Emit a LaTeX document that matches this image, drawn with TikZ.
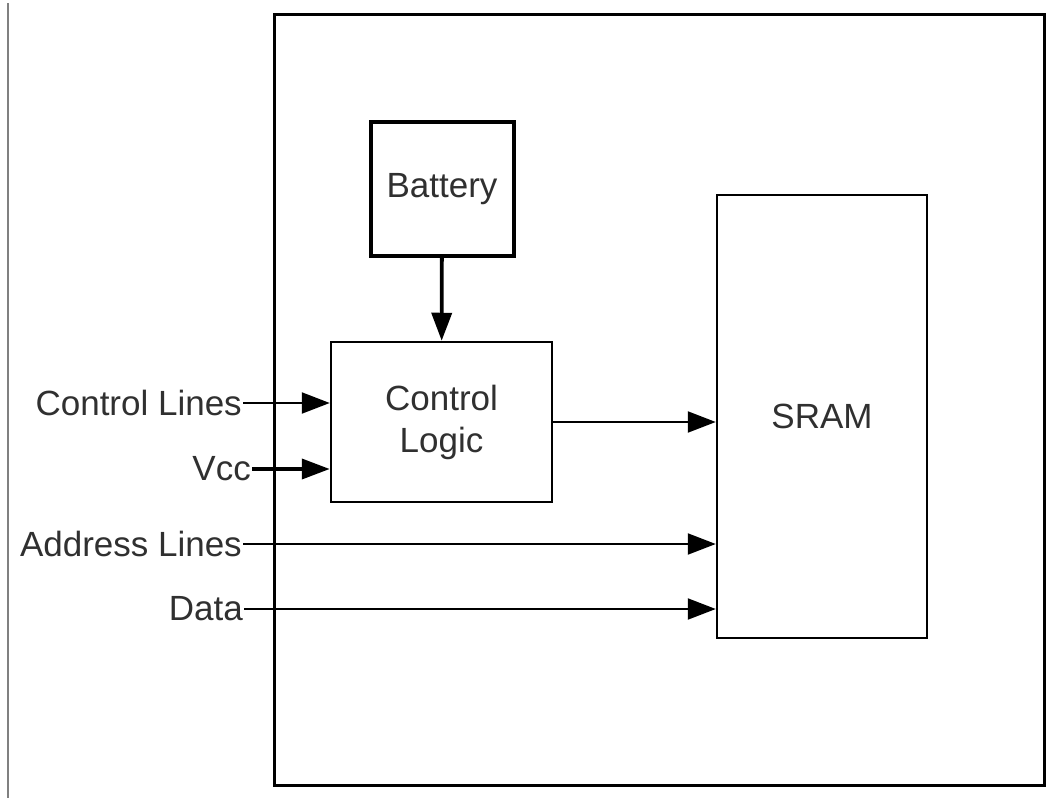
\documentclass[tikz,border=0pt]{standalone}
\usepackage{fontspec}
\setmainfont{Liberation Sans}
\usepackage{xcolor}
\usetikzlibrary{arrows.meta,positioning}
\definecolor{textogray}{HTML}{303030}

\begin{document}
\begin{tikzpicture}[
  x=1pt, y=-1pt,
  every node/.style={font=\fontsize{35}{42}\selectfont, text=textogray},
  caixa/.style={rectangle, draw=black, line width=2.5pt, align=center},
  rotulo/.style={anchor=east, inner sep=1pt},
  seta/.style={-{Triangle[length=28pt, width=21pt]}, line width=2.2pt},
  setagrossa/.style={-{Triangle[length=28pt, width=20pt]}, line width=3.8pt}
]
  \useasboundingbox (0,0) rectangle (1050,798);
  \draw[gray, line width=2pt] (8,3) -- (8,798);

  \node[caixa, line width=3pt, minimum width=770pt, minimum height=771pt] (chip) at (659.5,399.5) {};
  \node[caixa, line width=4pt, minimum width=143pt, minimum height=134pt] (battery) at (442,189) {Battery};
  \node[caixa, minimum width=221pt, minimum height=160pt] (logic) at (441.5,422) {Control\\Logic};
  \node[caixa, minimum width=210pt, minimum height=443pt] (sram) at (822,416.5) {SRAM};

  \node[rotulo] (ctl) at (243,403) {Control Lines};
  \node[rotulo] (vcc) at (252,469) {Vcc};
  \node[rotulo] (addr) at (243,544) {Address Lines};
  \node[rotulo] (data) at (244,609) {Data};

  \draw[setagrossa] (battery) -- (logic);
  \draw[seta] (ctl.east) -- (ctl.east -| logic.west);
  \draw[setagrossa] (vcc.east) -- (vcc.east -| logic.west);
  \draw[seta] (logic.east) -- (logic.east -| sram.west);
  \draw[seta] (addr.east) -- (addr.east -| sram.west);
  \draw[seta] (data.east) -- (data.east -| sram.west);
\end{tikzpicture}
\end{document}
